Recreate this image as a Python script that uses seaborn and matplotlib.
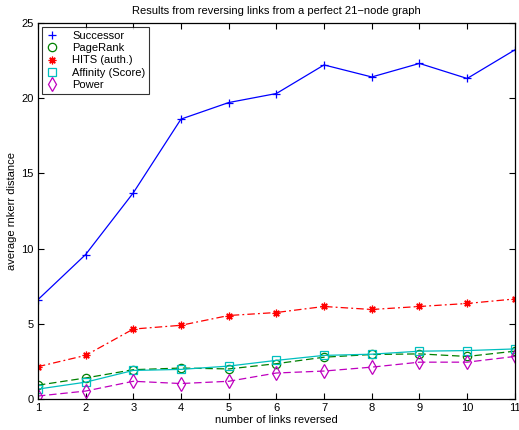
import numpy as np
import pandas as pd
import seaborn as sns
import matplotlib
matplotlib.use("Agg")
import matplotlib.pyplot as plt
from matplotlib.lines import Line2D

# values
links = [1, 2, 3, 4, 5, 6, 7, 8, 9, 10, 11]
successor = [6.6, 9.6, 13.7, 18.6, 19.7, 20.3, 22.2, 21.4, 22.3, 21.3, 23.2]
pagerank = [0.92, 1.4, 1.95, 2.06, 2.0, 2.35, 2.78, 2.96, 3.0, 2.83, 3.18]
hits = [2.15, 2.9, 4.65, 4.9, 5.55, 5.75, 6.15, 5.95, 6.15, 6.35, 6.65]
affinity = [0.66, 1.12, 1.9, 1.97, 2.19, 2.57, 2.9, 2.98, 3.18, 3.22, 3.33]
power = [0.2, 0.53, 1.18, 1.03, 1.18, 1.73, 1.86, 2.12, 2.45, 2.45, 2.83]

series_names = ["Successor", "PageRank", "HITS (auth.)", "Affinity (Score)", "Power"]
series_vals = [successor, pagerank, hits, affinity, power]
colors = ["#0000ff", "#008000", "#ff0000", "#00bfbf", "#bf00bf"]
markers = ["+", "o", (8, 2, 0), "s", "d"]
msizes = [6, 6, 5.5, 5.5, 7]
styles = ["-", (0, (6, 3)), (0, (6, 2.5, 1.5, 2.5)), "-", (0, (6, 3))]

sns.set_style("ticks")
plt.rcParams['font.family'] = ['Liberation Sans', 'DejaVu Sans']
plt.rcParams.update({"axes.edgecolor": "black", "xtick.color": "black",
                     "ytick.color": "black", "text.color": "black",
                     "axes.labelcolor": "black"})

fig = plt.figure(figsize=(5.19, 4.30), dpi=100)
ax = fig.add_axes([0.073, 0.072, 0.919, 0.875])

for name, vals, c, m, ms, ls in zip(series_names, series_vals, colors, markers, msizes, styles):
    df = pd.DataFrame({"links": links, "value": vals})
    sns.lineplot(data=df, x="links", y="value", ax=ax, color=c, linewidth=0.9,
                 linestyle=ls, marker=m, markersize=ms, markerfacecolor="none",
                 markeredgecolor=c, markeredgewidth=0.9)

ax.set_xlim(1, 11)
ax.set_ylim(0, 25)
ax.set_xticks(links)
ax.set_yticks([0, 5, 10, 15, 20, 25])
ax.tick_params(direction="in", top=True, right=True, labelsize=8, length=4, width=0.8, pad=3)
for s in ax.spines.values():
    s.set_visible(True)
    s.set_linewidth(0.9)

ax.set_xlabel("number of links reversed", fontsize=8, labelpad=1)
ax.set_ylabel("average rnkerr distance", fontsize=8, labelpad=3)
ax.set_title("Results from reversing links from a perfect 21\u2212node graph", fontsize=8, pad=6)

handles = [Line2D([], [], linestyle="none", marker=m, color=c, markerfacecolor="none",
                  markeredgecolor=c, markersize=ms, markeredgewidth=0.9)
           for c, m, ms in zip(colors, markers, msizes)]
leg = ax.legend(handles, series_names, loc="upper left", fontsize=8, frameon=True,
                fancybox=False, edgecolor="black", borderaxespad=0.4,
                handlelength=1.2, handletextpad=1.2, labelspacing=0.22, borderpad=0.3)
leg.get_frame().set_linewidth(0.8)

fig.savefig("out.png", dpi=100)
